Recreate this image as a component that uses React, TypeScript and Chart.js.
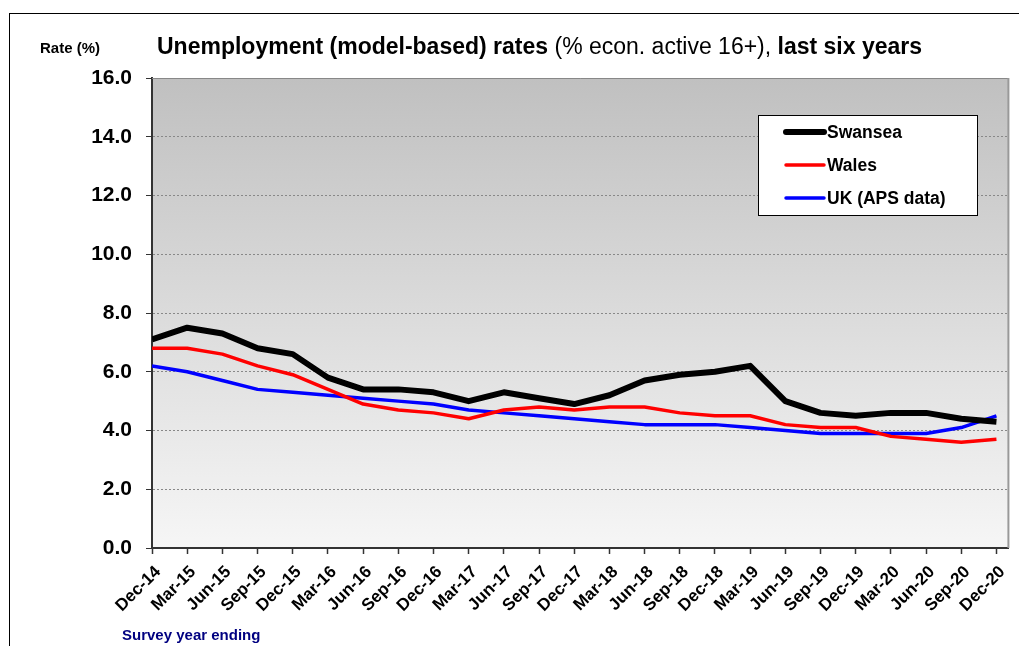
import React, { useEffect, useRef } from "react";
import { Chart, registerables } from "chart.js";

Chart.register(...registerables);

const labels = [
  "Dec-14", "Mar-15", "Jun-15", "Sep-15", "Dec-15", "Mar-16", "Jun-16", "Sep-16", "Dec-16",
  "Mar-17", "Jun-17", "Sep-17", "Dec-17", "Mar-18", "Jun-18", "Sep-18", "Dec-18",
  "Mar-19", "Jun-19", "Sep-19", "Dec-19", "Mar-20", "Jun-20", "Sep-20", "Dec-20",
];
const swansea = [7.1, 7.5, 7.3, 6.8, 6.6, 5.8, 5.4, 5.4, 5.3, 5.0, 5.3, 5.1, 4.9, 5.2, 5.7, 5.9, 6.0, 6.2, 5.0, 4.6, 4.5, 4.6, 4.6, 4.4, 4.3];
const wales = [6.8, 6.8, 6.6, 6.2, 5.9, 5.4, 4.9, 4.7, 4.6, 4.4, 4.7, 4.8, 4.7, 4.8, 4.8, 4.6, 4.5, 4.5, 4.2, 4.1, 4.1, 3.8, 3.7, 3.6, 3.7];
const uk = [6.2, 6.0, 5.7, 5.4, 5.3, 5.2, 5.1, 5.0, 4.9, 4.7, 4.6, 4.5, 4.4, 4.3, 4.2, 4.2, 4.2, 4.1, 4.0, 3.9, 3.9, 3.9, 3.9, 4.1, 4.5];
const seriesNames = ["Swansea", "Wales", "UK (APS data)"];
const seriesColors = ["#000000", "#ff0000", "#0000ff"];
const seriesWidths = [6, 3.5, 3.5];
const yTicks = [0, 2, 4, 6, 8, 10, 12, 14, 16];

const FONT = "Arial, 'Liberation Sans', sans-serif";

const decorPlugin = {
  id: "decor",
  beforeDraw(chart: any) {
    const { ctx, chartArea: a } = chart;
    ctx.save();
    const g = ctx.createLinearGradient(0, a.top, 0, a.bottom);
    g.addColorStop(0, "#c0c0c0");
    g.addColorStop(1, "#f6f6f6");
    ctx.fillStyle = g;
    ctx.fillRect(a.left, a.top, a.right - a.left, a.bottom - a.top);
    ctx.restore();
  },
  afterDraw(chart: any) {
    const { ctx, chartArea: a } = chart;
    ctx.save();
    // outer frame
    ctx.strokeStyle = "#000";
    ctx.lineWidth = 1;
    ctx.strokeRect(9.5, 13.5, 1100, 700);
    // plot top / right border
    ctx.strokeStyle = "#888";
    ctx.lineWidth = 1;
    ctx.beginPath();
    ctx.moveTo(a.left, a.top + 0.5);
    ctx.lineTo(a.right, a.top + 0.5);
    ctx.stroke();
    ctx.strokeStyle = "#999";
    ctx.lineWidth = 2;
    ctx.beginPath();
    ctx.moveTo(a.right, a.top);
    ctx.lineTo(a.right, a.bottom);
    ctx.stroke();

    // title
    ctx.fillStyle = "#000";
    ctx.textBaseline = "alphabetic";
    ctx.textAlign = "left";
    const parts: [string, boolean][] = [
      ["Unemployment (model-based) rates", true],
      [" (% econ. active 16+), ", false],
      ["last six years", true],
    ];
    let x = 157;
    for (const [t, b] of parts) {
      ctx.font = `${b ? "bold " : ""}23px ${FONT}`;
      ctx.fillText(t, x, 54);
      x += ctx.measureText(t).width;
    }
    ctx.font = `bold 15px ${FONT}`;
    ctx.fillText("Rate (%)", 40, 53);
    ctx.fillStyle = "#000080";
    ctx.fillText("Survey year ending", 122, 640);

    // legend
    const lx = 758, ly = 115, lw = 219, lh = 100;
    ctx.fillStyle = "#fff";
    ctx.fillRect(lx, ly, lw, lh);
    ctx.strokeStyle = "#000";
    ctx.lineWidth = 1;
    ctx.strokeRect(lx + 0.5, ly + 0.5, lw, lh);
    ctx.font = `bold 17.5px ${FONT}`;
    ctx.textBaseline = "middle";
    seriesNames.forEach((n, i) => {
      const yy = 132 + i * 33;
      ctx.strokeStyle = seriesColors[i];
      ctx.lineWidth = seriesWidths[i];
      ctx.lineCap = "round";
      ctx.beginPath();
      ctx.moveTo(786, yy);
      ctx.lineTo(824, yy);
      ctx.stroke();
      ctx.fillStyle = "#000";
      ctx.fillText(n, 827, yy + 1);
    });
    ctx.restore();
  },
};

export default function App() {
  const ref = useRef<HTMLCanvasElement | null>(null);
  useEffect(() => {
    if (!ref.current) return;
    const series = [swansea, wales, uk];
    const chart = new Chart(ref.current, {
      type: "line",
      data: {
        datasets: series.map((s, i) => ({
          label: seriesNames[i],
          data: s.map((v, j) => ({ x: j, y: v })),
          borderColor: seriesColors[i],
          borderWidth: seriesWidths[i],
          pointRadius: 0,
          tension: 0,
          fill: false,
          borderJoinStyle: "round",
        })),
      },
      options: {
        responsive: false,
        animation: false,
        layout: { padding: { left: 0, top: 78, right: 9, bottom: 0 } },
        plugins: { legend: { display: false }, tooltip: { enabled: false }, title: { display: false } },
        scales: {
          x: {
            type: "linear",
            min: 0,
            max: 24.34,
            afterBuildTicks: (scale: any) => {
              scale.ticks = labels.map((_, i) => ({ value: i }));
            },
            afterFit: (scale: any) => {
              scale.height = 98;
            },
            ticks: {
              autoSkip: false,
              minRotation: 45,
              maxRotation: 45,
              color: "#000",
              font: { family: FONT, size: 17, weight: "bold" },
              padding: 8,
              labelOffset: 6,
              callback: (v: any) => labels[Math.round(v)] ?? "",
            },
            grid: { drawOnChartArea: false, tickLength: 6, tickColor: "#333", tickWidth: 1.5 },
            border: { color: "#333", width: 2 },
          },
          y: {
            min: 0,
            max: 16,
            afterBuildTicks: (scale: any) => {
              scale.ticks = yTicks.map((v) => ({ value: v }));
            },
            afterFit: (scale: any) => {
              scale.width = 152;
            },
            ticks: {
              color: "#000",
              font: { family: FONT, size: 21, weight: "bold" },
              padding: 14,
              callback: (v: any) => Number(v).toFixed(1),
            },
            grid: {
              color: "#888",
              tickBorderDash: [],
              tickColor: "#333",
              tickLength: 6,
              lineWidth: 1,
            },
            border: { color: "#333", width: 2, dash: [2, 2] },
          },
        },
      },
      plugins: [decorPlugin],
    } as any);
    return () => chart.destroy();
  }, []);
  return (
    <div style={{ position: "fixed", left: 0, top: 0, width: 1019, height: 646, background: "#fff" }}>
      <canvas ref={ref} width={1019} height={646} style={{ display: "block" }} />
    </div>
  );
}
